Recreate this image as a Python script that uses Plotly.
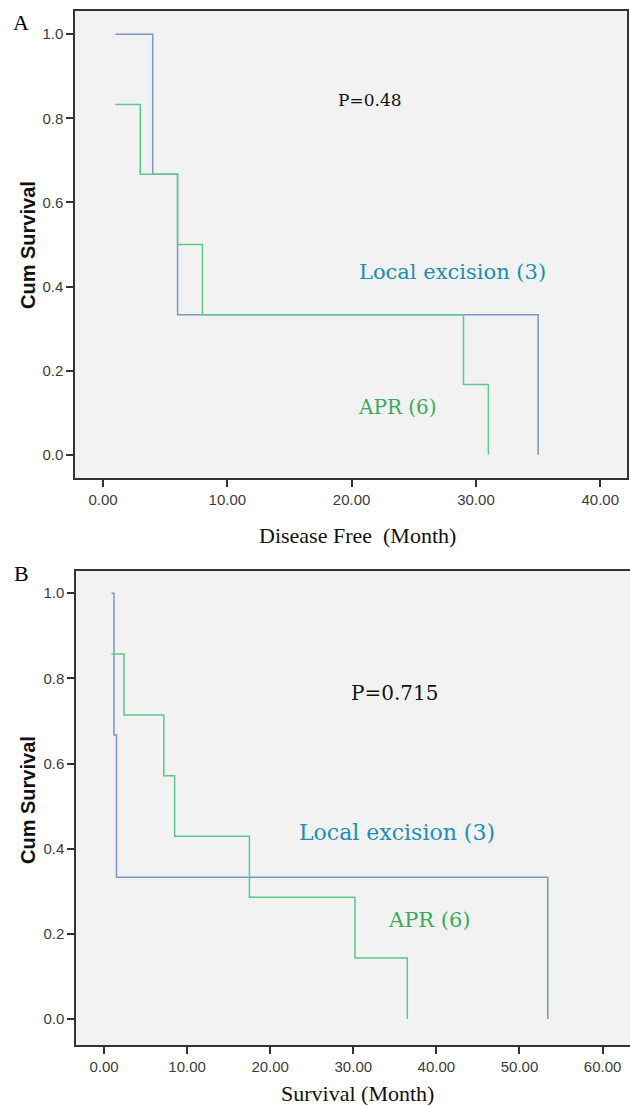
import plotly.graph_objects as go

# ---- Data ----
# Panel A: Disease free survival
a_local_time = [1, 4, 6, 35]
a_local_surv = [1.0, 0.667, 0.333, 0.0]
a_apr_time = [1, 3, 6, 8, 29, 31]
a_apr_surv = [0.833, 0.667, 0.5, 0.333, 0.167, 0.0]

# Panel B: Overall survival
b_local_time = [0.9, 1.2, 1.5, 53.4]
b_local_surv = [1.0, 0.667, 0.333, 0.0]
b_apr_time = [0.9, 2.4, 7.2, 8.5, 17.5, 30.2, 36.5]
b_apr_surv = [0.857, 0.714, 0.571, 0.429, 0.286, 0.143, 0.0]

a_xticks = [0, 10, 20, 30, 40]
b_xticks = [0, 10, 20, 30, 40, 50, 60]
yticks = [0.0, 0.2, 0.4, 0.6, 0.8, 1.0]

W, H = 630, 1105
BLUE = "#7b96c9"
GREEN = "#5cc88a"
TXT_BLUE = "#1a8fb8"
TXT_GREEN = "#3aaa5e"

def px_x(p):
    return p / W

def px_y(p):
    return 1 - p / H

fig = go.Figure()

fig.add_trace(go.Scatter(x=a_local_time, y=a_local_surv, mode="lines", line_shape="hv",
                         line=dict(color=BLUE, width=1.5), xaxis="x", yaxis="y", showlegend=False))
fig.add_trace(go.Scatter(x=a_apr_time, y=a_apr_surv, mode="lines", line_shape="hv",
                         line=dict(color=GREEN, width=1.5), xaxis="x", yaxis="y", showlegend=False))
fig.add_trace(go.Scatter(x=b_local_time, y=b_local_surv, mode="lines", line_shape="hv",
                         line=dict(color=BLUE, width=1.5), xaxis="x2", yaxis="y2", showlegend=False))
fig.add_trace(go.Scatter(x=b_apr_time, y=b_apr_surv, mode="lines", line_shape="hv",
                         line=dict(color=GREEN, width=1.5), xaxis="x2", yaxis="y2", showlegend=False))

tickfont = dict(family="Liberation Sans, Arial, sans-serif", size=15, color="#3c3c3c")
common_x = dict(showgrid=False, zeroline=False, showline=True, linecolor="#333333", linewidth=1.5,
                ticks="outside", ticklen=7, tickwidth=1.5, tickcolor="#333333",
                tickformat=".2f", tickfont=dict(tickfont, size=15))
common_y = dict(showgrid=False, zeroline=False, showline=True, linecolor="#333333", linewidth=1.5,
                ticks="outside", ticklen=7, tickwidth=1.5, tickcolor="#333333",
                tickformat=".1f", tickvals=yticks, tickfont=tickfont)

fig.update_layout(
    width=W, height=H,
    margin=dict(l=0, r=0, t=0, b=0),
    paper_bgcolor="white",
    plot_bgcolor="#f2f2f2",
    xaxis=dict(common_x, domain=[px_x(75), px_x(627)], range=[-2.25, 42.15], tickvals=a_xticks,
               anchor="y", mirror=True),
    yaxis=dict(common_y, domain=[px_y(478), px_y(11)], range=[-0.055, 1.055], anchor="x", mirror=True),
    xaxis2=dict(common_x, domain=[px_x(76), 1.0], range=[-3.37, 63.3], tickvals=b_xticks,
                anchor="y2", mirror=True),
    yaxis2=dict(common_y, domain=[px_y(1045), px_y(571)], range=[-0.061, 1.052], anchor="x2", mirror=False),
)

serif = "DejaVu Serif, serif"
title_serif = "Liberation Serif, Times New Roman, serif"
C = dict(xanchor="center", yanchor="middle", showarrow=False)
ann = []
# Panel labels
ann.append(dict(C, text="A", x=px_x(21), y=px_y(22), xref="paper", yref="paper",
                font=dict(family=title_serif, size=22, color="black")))
ann.append(dict(C, text="B", x=px_x(21), y=px_y(573), xref="paper", yref="paper",
                font=dict(family=title_serif, size=22, color="black")))
# Y titles
for yc in (245, 800):
    ann.append(dict(C, text="<b>Cum Survival</b>", x=px_x(28), y=px_y(yc), xref="paper", yref="paper",
                    textangle=-90,
                    font=dict(family="Liberation Sans, Arial, sans-serif", size=20, color="#111111")))
# X titles
ann.append(dict(C, text="Disease Free&nbsp; (Month)", x=px_x(357), y=px_y(535), xref="paper", yref="paper",
                font=dict(family=title_serif, size=22, color="#111111")))
ann.append(dict(C, text="Survival (Month)", x=px_x(357), y=px_y(1093), xref="paper", yref="paper",
                font=dict(family=title_serif, size=22, color="#111111")))
# In-plot annotations panel A
ann.append(dict(C, text="P=0.48", x=21.5, y=0.843, xref="x", yref="y",
                font=dict(family=serif, size=17, color="#111111")))
ann.append(dict(C, text="Local excision (3)", x=28.1, y=0.435, xref="x", yref="y",
                font=dict(family=serif, size=21, color=TXT_BLUE)))
ann.append(dict(C, text="APR (6)", x=23.7, y=0.114, xref="x", yref="y",
                font=dict(family=serif, size=20, color=TXT_GREEN)))
# Panel B
ann.append(dict(C, text="P=0.715", x=34.9, y=0.765, xref="x2", yref="y2",
                font=dict(family=serif, size=20, color="#111111")))
ann.append(dict(C, text="Local excision (3)", x=35.2, y=0.437, xref="x2", yref="y2",
                font=dict(family=serif, size=22, color=TXT_BLUE)))
ann.append(dict(C, text="APR (6)", x=39.2, y=0.232, xref="x2", yref="y2",
                font=dict(family=serif, size=21, color=TXT_GREEN)))
fig.update_layout(annotations=ann)

fig.write_html("out.html", config={"displayModeBar": False},
               post_script="document.body.style.margin='0';document.body.style.overflow='hidden';")
